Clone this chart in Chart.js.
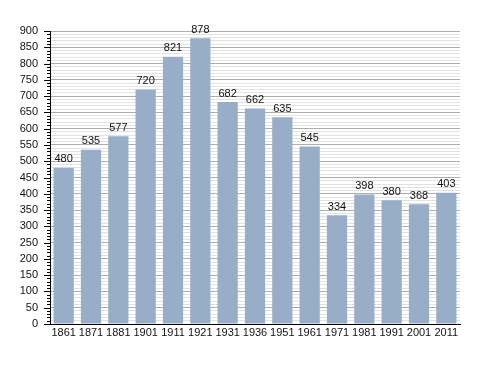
<!DOCTYPE html>
<html><head><meta charset="utf-8">
<script src="https://cdn.jsdelivr.net/npm/chart.js@4/dist/chart.umd.min.js"></script>
<style>html,body{margin:0;padding:0;background:#fff}#w{width:488px;height:373px}</style>
</head><body><div id="w"><canvas id="c" width="488" height="373"></canvas></div>
<script>
const years = ["1861","1871","1881","1901","1911","1921","1931","1936","1951","1961","1971","1981","1991","2001","2011"];
const population = [480,535,577,720,821,878,682,662,635,545,334,398,380,368,403];
const yMin = 0, yMax = 900, majorStep = 50, minorStep = 10;

const labelPlugin = {
  id: 'labels',
  afterDatasetsDraw(chart) {
    const ctx = chart.ctx;
    const meta = chart.getDatasetMeta(0);
    ctx.save();
    ctx.font = '11px "Liberation Sans", Arial, sans-serif';
    ctx.fillStyle = '#111';
    ctx.textAlign = 'center';
    ctx.textBaseline = 'bottom';
    meta.data.forEach((bar, i) => {
      ctx.fillText(String(population[i]), bar.x, bar.y - 3);
    });
    ctx.restore();
  }
};
const tickPlugin = {
  id: 'ticks',
  afterDraw(chart) {
    const ctx = chart.ctx;
    const y = chart.scales.y;
    const x0 = chart.chartArea.left;
    ctx.save();
    ctx.strokeStyle = '#000';
    ctx.lineWidth = 1;
    for (let v = yMin; v <= yMax; v += minorStep) {
      const py = Math.round(y.getPixelForValue(v)) + 0.5;
      const len = (v % majorStep === 0) ? 6 : 3;
      ctx.beginPath();
      ctx.moveTo(x0 - len, py);
      ctx.lineTo(x0, py);
      ctx.stroke();
    }
    ctx.restore();
  }
};

new Chart(document.getElementById('c'), {
  type: 'bar',
  data: {
    labels: years,
    datasets: [{
      data: population,
      backgroundColor: '#98aec8',
      borderWidth: 0,
      barPercentage: 0.74,
      categoryPercentage: 1
    }]
  },
  options: {
    responsive: false,
    animation: false,
    events: [],
    layout: { padding: { left: 0, top: 31, right: 28, bottom: 0 } },
    plugins: { legend: { display: false }, tooltip: { enabled: false } },
    scales: {
      x: {
        grid: { display: false, drawTicks: false },
        border: { color: '#000', width: 1 },
        ticks: { color: '#111', font: { size: 11, family: '"Liberation Sans", Arial, sans-serif' }, padding: 2, maxRotation: 0, autoSkip: false },
        afterFit(s) { s.height = 49; }
      },
      y: {
        min: yMin, max: yMax,
        grid: {
          drawTicks: false,
          color: ctx => (ctx.tick && ctx.tick.value % majorStep === 0) ? '#adadad' : '#e2e2e2',
          lineWidth: 1
        },
        border: { color: '#000', width: 1 },
        ticks: {
          stepSize: minorStep,
          autoSkip: false,
          padding: 12,
          color: '#111',
          font: { size: 11, family: '"Liberation Sans", Arial, sans-serif' },
          callback: v => (v % majorStep === 0) ? String(v) : ''
        },
        afterFit(s) { s.width = 50; }
      }
    }
  },
  plugins: [labelPlugin, tickPlugin]
});
</script></body></html>
